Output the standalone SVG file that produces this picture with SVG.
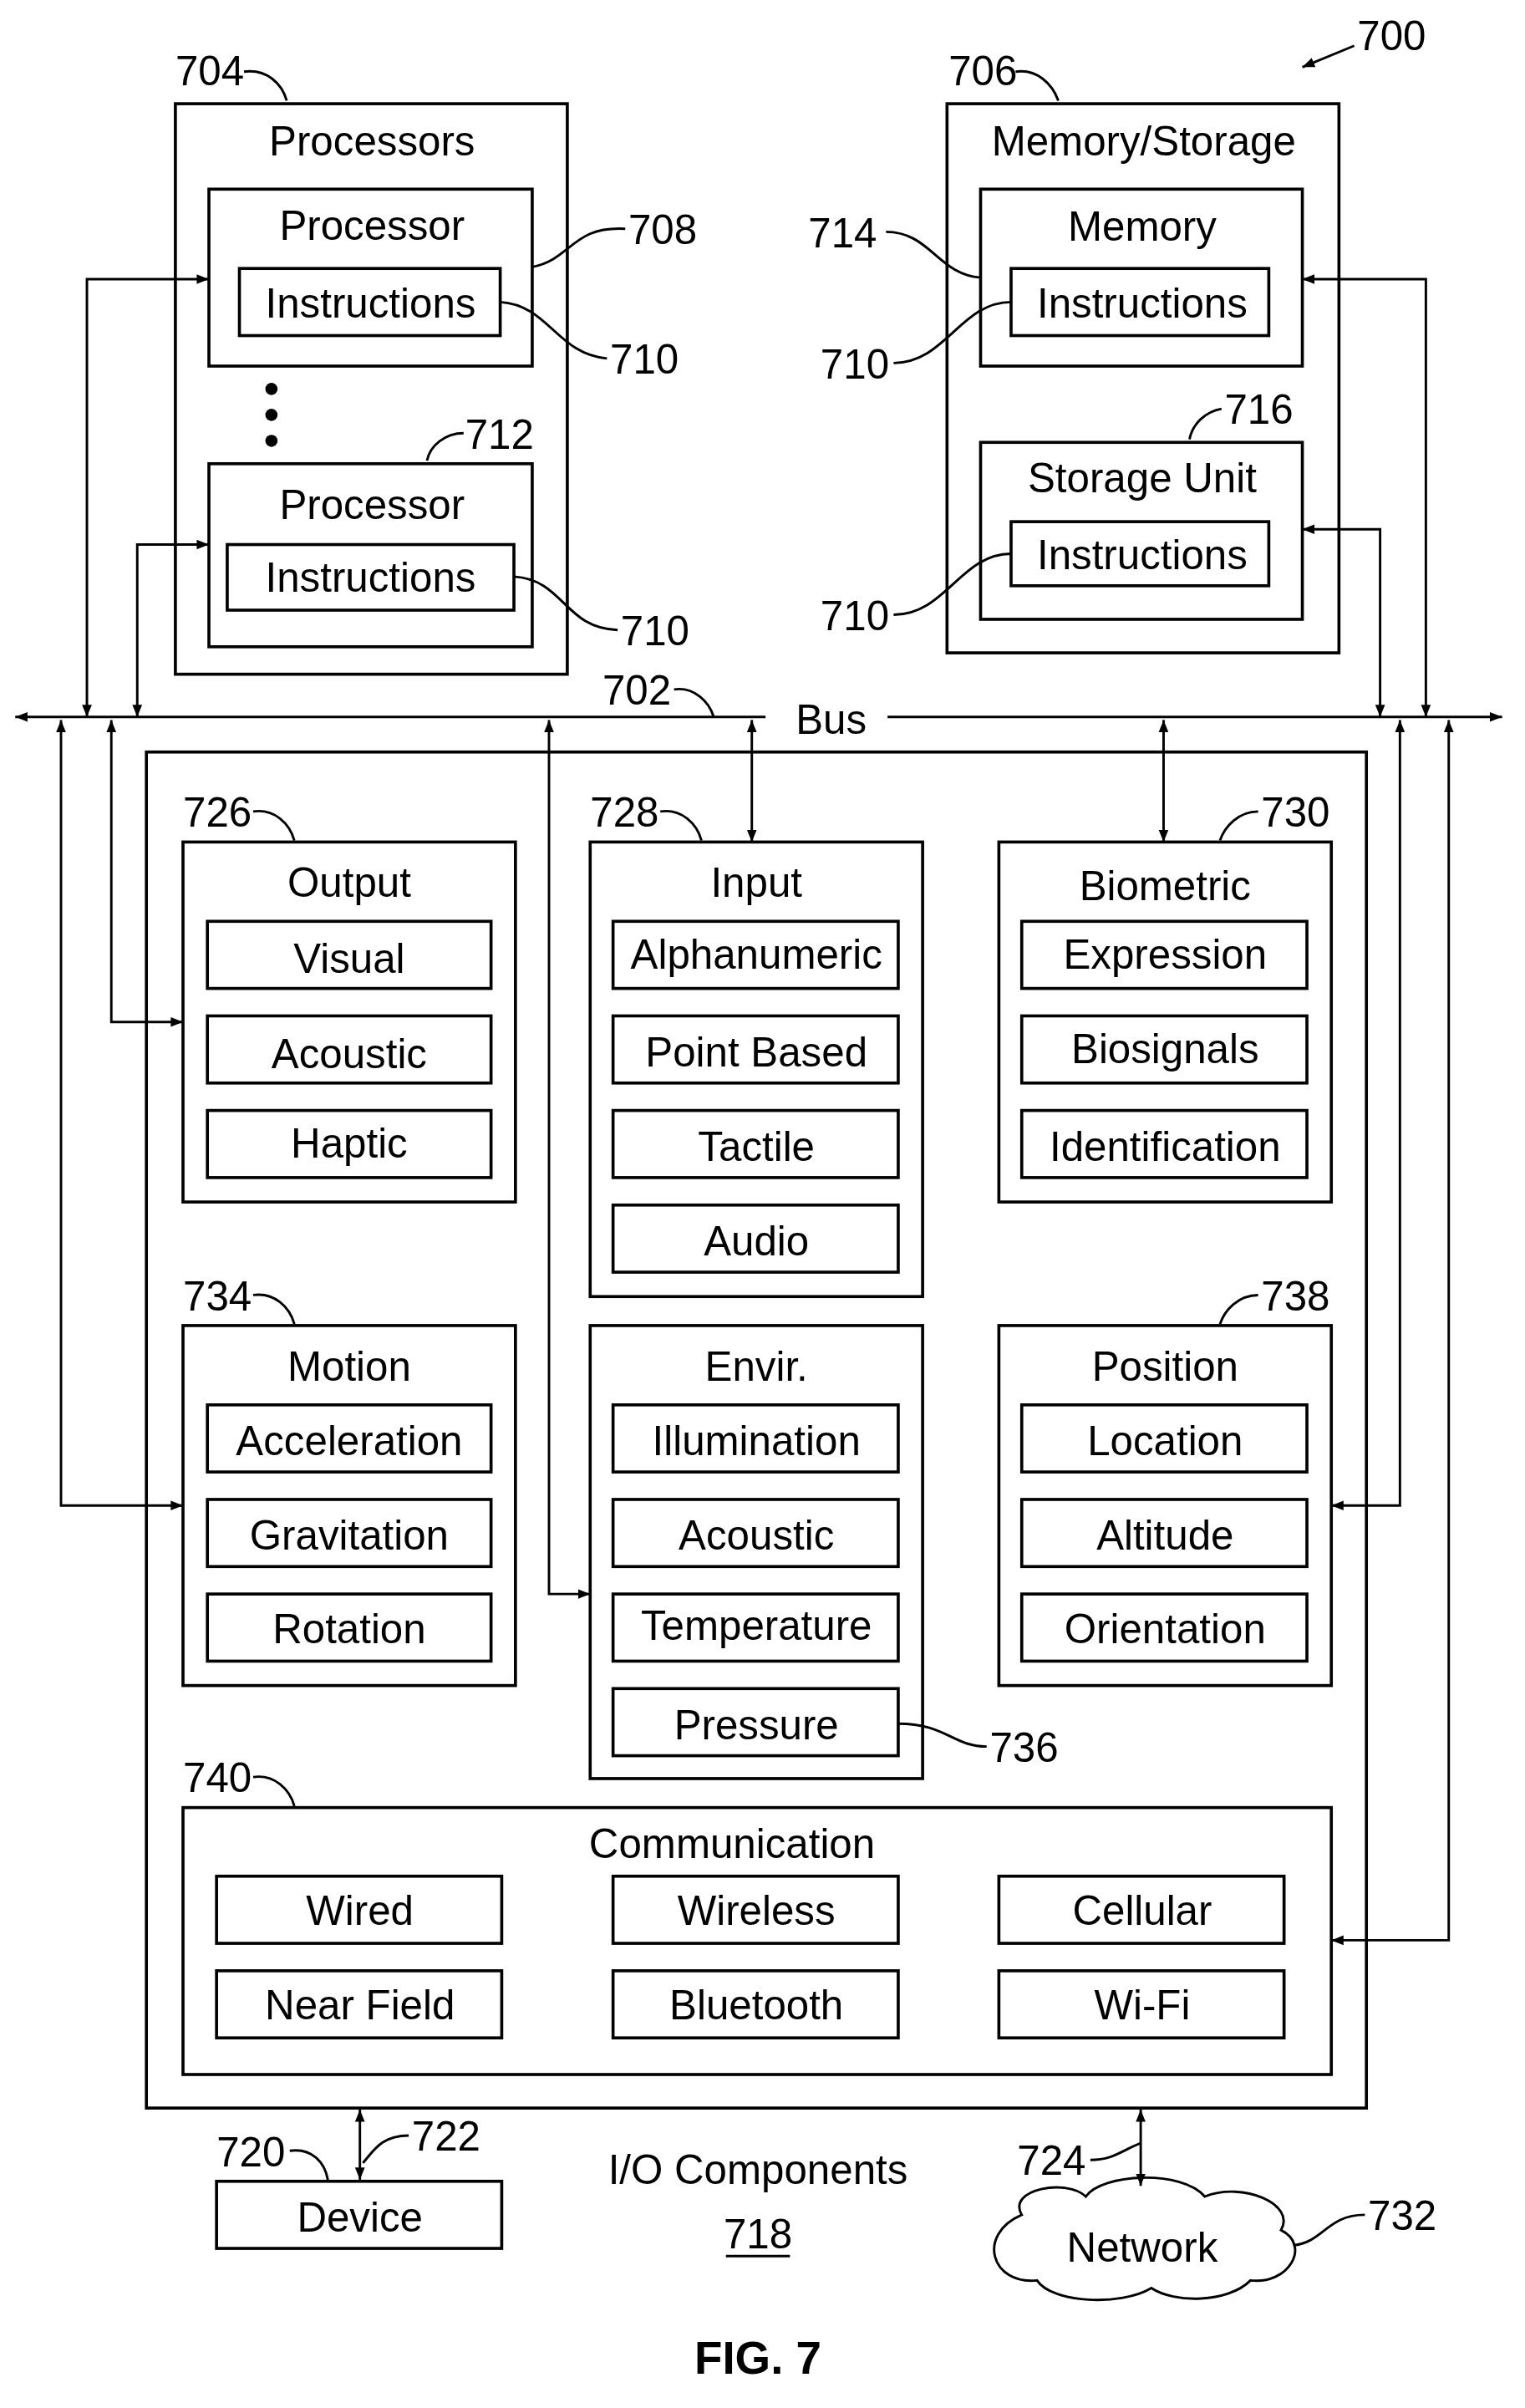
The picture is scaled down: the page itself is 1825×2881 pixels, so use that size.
<svg xmlns="http://www.w3.org/2000/svg" width="1825" height="2881" viewBox="0 0 1825 2881">
<defs>
<marker id="a" viewBox="0 0 10 10" refX="10" refY="5" markerWidth="5" markerHeight="5" orient="auto-start-reverse"><path d="M0,1 L10,5 L0,9 z" fill="#000"/></marker>
<style>
rect{fill:none;stroke:#000;stroke-width:2}
text{font-family:"Liberation Sans",Arial,sans-serif;font-size:27px;text-anchor:middle;fill:#000}
.l{text-anchor:start}
.c path,.c polyline,.c line{fill:none;stroke:#000;stroke-width:1.6}
.k{fill:none;stroke:#000;stroke-width:1.6}
</style>
</defs>
<rect x="0" y="0" width="1825" height="2881" style="fill:#fff;stroke:none"/>
<g transform="scale(1.825)">
<g id="processors"><rect x="115" y="68" width="257" height="374"/><text x="244" y="102">Processors</text>
<rect x="137" y="124" width="212" height="116"/><text x="244" y="157">Processor</text>
<rect x="157" y="176" width="171" height="44"/><text x="243" y="208">Instructions</text>
<circle cx="178" cy="255" r="4"/><circle cx="178" cy="272" r="4"/><circle cx="178" cy="289" r="4"/>
<rect x="137" y="304" width="212" height="120"/><text x="244" y="340">Processor</text>
<rect x="149" y="357" width="188" height="43"/><text x="243" y="388">Instructions</text></g>
<g id="memory"><rect x="621" y="68" width="257" height="360"/><text x="750" y="102">Memory/Storage</text>
<rect x="643" y="124" width="211" height="116"/><text x="749" y="158">Memory</text>
<rect x="663" y="176" width="169" height="44"/><text x="749" y="208">Instructions</text>
<rect x="643" y="290" width="211" height="116"/><text x="749" y="323">Storage Unit</text>
<rect x="663" y="342" width="169" height="42"/><text x="749" y="373">Instructions</text></g>
<g id="io"><rect x="96" y="493" width="800" height="889"/>
<rect x="120" y="552" width="218" height="236"/><text x="229" y="588">Output</text>
<rect x="136" y="604" width="186" height="44"/><text x="229" y="638">Visual</text>
<rect x="136" y="666" width="186" height="44"/><text x="229" y="700">Acoustic</text>
<rect x="136" y="728" width="186" height="44"/><text x="229" y="759">Haptic</text>
<rect x="387" y="552" width="218" height="298"/><text x="496" y="588">Input</text>
<rect x="402" y="604" width="187" height="44"/><text x="496" y="635">Alphanumeric</text>
<rect x="402" y="666" width="187" height="44"/><text x="496" y="699">Point Based</text>
<rect x="402" y="728" width="187" height="44"/><text x="496" y="761">Tactile</text>
<rect x="402" y="790" width="187" height="44"/><text x="496" y="823">Audio</text>
<rect x="655" y="552" width="218" height="236"/><text x="764" y="590">Biometric</text>
<rect x="670" y="604" width="187" height="44"/><text x="764" y="635">Expression</text>
<rect x="670" y="666" width="187" height="44"/><text x="764" y="697">Biosignals</text>
<rect x="670" y="728" width="187" height="44"/><text x="764" y="761">Identification</text>
<rect x="120" y="869" width="218" height="236"/><text x="229" y="905">Motion</text>
<rect x="136" y="921" width="186" height="44"/><text x="229" y="954">Acceleration</text>
<rect x="136" y="983" width="186" height="44"/><text x="229" y="1016">Gravitation</text>
<rect x="136" y="1045" width="186" height="44"/><text x="229" y="1077">Rotation</text>
<rect x="387" y="869" width="218" height="297"/><text x="496" y="905">Envir.</text>
<rect x="402" y="921" width="187" height="44"/><text x="496" y="954">Illumination</text>
<rect x="402" y="983" width="187" height="44"/><text x="496" y="1016">Acoustic</text>
<rect x="402" y="1045" width="187" height="44"/><text x="496" y="1075">Temperature</text>
<rect x="402" y="1107" width="187" height="44"/><text x="496" y="1140">Pressure</text>
<rect x="655" y="869" width="218" height="236"/><text x="764" y="905">Position</text>
<rect x="670" y="921" width="187" height="44"/><text x="764" y="954">Location</text>
<rect x="670" y="983" width="187" height="44"/><text x="764" y="1016">Altitude</text>
<rect x="670" y="1045" width="187" height="44"/><text x="764" y="1077">Orientation</text>
<rect x="120" y="1185" width="753" height="175"/><text x="480" y="1218">Communication</text>
<rect x="142" y="1230" width="187" height="44"/><text x="236" y="1262">Wired</text>
<rect x="402" y="1230" width="187" height="44"/><text x="496" y="1262">Wireless</text>
<rect x="655" y="1230" width="187" height="44"/><text x="749" y="1262">Cellular</text>
<rect x="142" y="1292" width="187" height="44"/><text x="236" y="1324">Near Field</text>
<rect x="402" y="1292" width="187" height="44"/><text x="496" y="1324">Bluetooth</text>
<rect x="655" y="1292" width="187" height="44"/><text x="749" y="1324">Wi-Fi</text>
<text x="497" y="1432">I/O Components</text><text x="497" y="1474">718</text><line class="k" x1="476" y1="1479" x2="518" y2="1479"/></g>
<g id="device"><rect x="142" y="1430" width="187" height="44"/><text x="236" y="1463">Device</text></g>
<g id="network"><path class="k" d="M670,1452 C660,1435 700,1428 712,1440 C722,1425 775,1422 790,1440 C815,1430 850,1445 840,1462 C860,1472 845,1498 820,1495 C805,1510 770,1510 755,1500 C735,1512 690,1510 680,1495 C650,1498 640,1465 670,1452 Z"/><text x="749" y="1483">Network</text></g>
<g id="labels" class="c">
<text class="l" x="115" y="56">704</text><path d="M160,47 C175,45 185,55 188,66"/>
<text class="l" x="622" y="56">706</text><path d="M666,47 C680,45 690,55 694,66"/>
<text class="l" x="890" y="33">700</text><line x1="888" y1="30" x2="854" y2="44" marker-end="url(#a)"/>
<text class="l" x="412" y="160">708</text><path d="M349,175 C375,170 375,148 410,150"/>
<text class="l" x="400" y="245">710</text><path d="M328,198 C360,200 365,232 398,235"/>
<text class="l" x="305" y="294">712</text><path d="M280,302 C282,292 292,284 304,284"/>
<text class="l" x="407" y="423">710</text><path d="M337,378 C370,380 370,412 405,413"/>
<text class="l" x="530" y="162">714</text><path d="M581,152 C610,152 615,180 643,182"/>
<text class="l" x="538" y="248">710</text><path d="M586,238 C620,238 630,198 663,198"/>
<text class="l" x="803" y="278">716</text><path d="M780,288 C782,278 790,270 801,268"/>
<text class="l" x="538" y="413">710</text><path d="M586,403 C620,403 630,363 663,363"/>
<text class="l" x="395" y="462">702</text><path d="M442,452 C455,450 465,460 468,470"/>
<text class="l" x="120" y="542">726</text><path d="M166,532 C180,530 190,540 193,551"/>
<text class="l" x="387" y="542">728</text><path d="M433,532 C447,530 457,540 460,551"/>
<text class="l" x="827" y="542">730</text><path d="M825,532 C812,532 803,542 800,551"/>
<text class="l" x="120" y="859">734</text><path d="M166,849 C180,847 190,857 193,868"/>
<text class="l" x="827" y="859">738</text><path d="M825,849 C812,849 803,859 800,868"/>
<text class="l" x="649" y="1155">736</text><path d="M589,1130 C620,1130 625,1145 647,1145"/>
<text class="l" x="120" y="1175">740</text><path d="M166,1165 C180,1163 190,1173 193,1184"/>
<text class="l" x="142" y="1420">720</text><path d="M190,1410 C205,1408 213,1418 215,1429"/>
<text class="l" x="270" y="1410">722</text><path d="M268,1400 C250,1400 245,1410 238,1418"/>
<text class="l" x="667" y="1426">724</text><path d="M715,1416 C730,1416 735,1410 748,1405"/>
<text class="l" x="897" y="1462">732</text><path d="M895,1452 C870,1452 868,1470 848,1472"/>
</g>
<g id="connectors" class="c">
<line x1="502" y1="470" x2="10" y2="470" marker-end="url(#a)"/><line x1="582" y1="470" x2="985" y2="470" marker-end="url(#a)"/>
<text x="545" y="481">Bus</text>
<polyline points="57,470 57,183 137,183" marker-start="url(#a)" marker-end="url(#a)"/>
<polyline points="90,470 90,357 137,357" marker-start="url(#a)" marker-end="url(#a)"/>
<polyline points="935,470 935,183 854,183" marker-start="url(#a)" marker-end="url(#a)"/>
<polyline points="905,470 905,347 854,347" marker-start="url(#a)" marker-end="url(#a)"/>
<polyline points="40,472 40,987 120,987" marker-start="url(#a)" marker-end="url(#a)"/>
<polyline points="73,472 73,670 120,670" marker-start="url(#a)" marker-end="url(#a)"/>
<polyline points="360,472 360,1045 387,1045" marker-start="url(#a)" marker-end="url(#a)"/>
<line x1="493" y1="472" x2="493" y2="552" marker-start="url(#a)" marker-end="url(#a)"/>
<line x1="763" y1="472" x2="763" y2="552" marker-start="url(#a)" marker-end="url(#a)"/>
<polyline points="918,472 918,987 873,987" marker-start="url(#a)" marker-end="url(#a)"/>
<polyline points="950,472 950,1272 873,1272" marker-start="url(#a)" marker-end="url(#a)"/>
<line x1="236" y1="1383" x2="236" y2="1429" marker-start="url(#a)" marker-end="url(#a)"/>
<line x1="748" y1="1383" x2="748" y2="1433" marker-start="url(#a)" marker-end="url(#a)"/>
</g>
<text x="497" y="1556" style="font-weight:bold;font-size:30px">FIG. 7</text>
</g>
</svg>
